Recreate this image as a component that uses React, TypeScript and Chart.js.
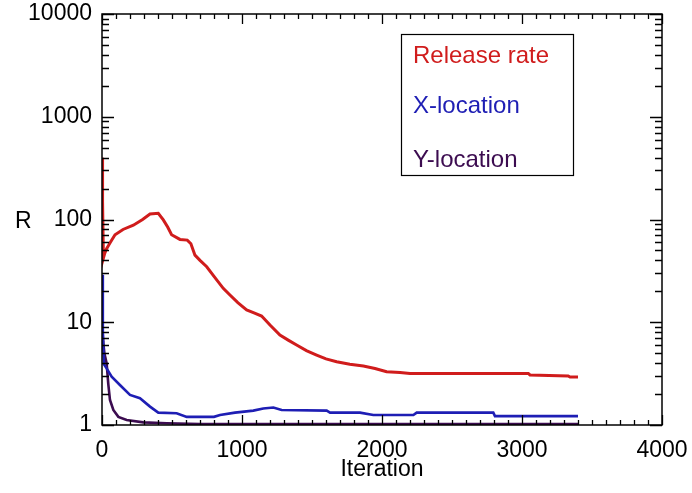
import { useEffect, useRef } from 'react';
import { Chart, registerables } from 'chart.js';

Chart.register(...registerables);

const FONT = '"Liberation Sans", Arial, Helvetica, sans-serif';
const FONT_SIZE = 23;
const LEGEND_FONT_SIZE = 24;

// ---- axis definitions ----
const xTickValues = [0, 1000, 2000, 3000, 4000];
const yTickValues = [1, 10, 100, 1000, 10000];
const xMinorStep = 100;
const xTitle = 'Iteration';
const yTitle = 'R';

// ---- series ----
const seriesLabels = ['Release rate', 'X-location', 'Y-location'];
const seriesColors = ['#d01c1c', '#1e1eb4', '#3c0c50'];

const releaseIter = [0, 4, 10, 20, 33, 60, 93, 150, 224, 290, 343, 402, 438, 470, 497, 557, 609, 635, 664, 700, 748, 800, 866, 914, 970, 1033, 1090, 1140, 1200, 1271, 1330, 1390, 1460, 1533, 1600, 1676, 1770, 1867, 1950, 2033, 2129, 2200, 2600, 3045, 3057, 3330, 3343, 3400];
const releaseVals = [400, 150, 42, 47, 52, 60, 71, 80, 88, 100, 113, 115, 99, 84, 71, 64, 63, 58, 45, 40, 34.7, 28, 21.4, 18.4, 15.5, 13.2, 12.3, 11.5, 9.4, 7.5, 6.7, 6.0, 5.3, 4.8, 4.4, 4.13, 3.9, 3.75, 3.55, 3.3, 3.25, 3.18, 3.18, 3.18, 3.07, 3.0, 2.93, 2.93];

const xLocIter = [0, 6, 14, 33, 69, 128, 200, 271, 343, 402, 533, 605, 800, 843, 950, 1081, 1152, 1224, 1283, 1605, 1629, 1843, 1938, 2224, 2248, 2795, 2807, 3400];
const xLocVals = [29, 8, 3.9, 3.56, 2.95, 2.45, 1.96, 1.82, 1.51, 1.32, 1.3, 1.2, 1.2, 1.25, 1.32, 1.38, 1.45, 1.48, 1.4, 1.38, 1.32, 1.32, 1.25, 1.25, 1.32, 1.32, 1.22, 1.22];

const yLocIter = [0, 8, 17, 33, 45, 57, 81, 117, 176, 295, 462, 700, 3400];
const yLocVals = [10.5, 6.5, 5.0, 4.0, 2.5, 1.75, 1.4, 1.2, 1.12, 1.06, 1.04, 1.02, 1.02];

const toPoints = (xs: number[], ys: number[]) => xs.map((x, i) => ({ x, y: ys[i] }));

const idlPlugin = {
  id: 'idlFrame',
  afterDatasetsDraw(chart: any) {
    const { ctx, chartArea: a, scales } = chart;
    const xs = scales.x;
    const ys = scales.y;
    ctx.save();
    // frame
    ctx.strokeStyle = '#000';
    ctx.lineWidth = 1.5;
    ctx.strokeRect(a.left, a.top, a.right - a.left, a.bottom - a.top);
    // inward ticks
    ctx.lineWidth = 1.3;
    ctx.beginPath();
    for (let v = xs.min; v <= xs.max + 0.001; v += xMinorStep) {
      const px = Math.round(xs.getPixelForValue(v)) + 0.5;
      const len = xTickValues.includes(v) ? 10 : 5;
      ctx.moveTo(px, a.bottom);
      ctx.lineTo(px, a.bottom - len);
      ctx.moveTo(px, a.top);
      ctx.lineTo(px, a.top + len);
    }
    for (let d = yTickValues[0]; d <= yTickValues[yTickValues.length - 1]; d *= 10) {
      for (let m = 1; m <= 9; m++) {
        const v = d * m;
        if (v > ys.max * 1.0001) break;
        const py = Math.round(ys.getPixelForValue(v)) + 0.5;
        const len = m === 1 ? 12 : 7;
        ctx.moveTo(a.left, py);
        ctx.lineTo(a.left + len, py);
        ctx.moveTo(a.right, py);
        ctx.lineTo(a.right - len, py);
      }
    }
    ctx.stroke();

    // legend box
    const lx = 401, ly = 34, lw = 172, lh = 141;
    ctx.lineWidth = 1.2;
    ctx.strokeRect(lx + 0.5, ly + 0.5, lw, lh);
    ctx.font = `${LEGEND_FONT_SIZE}px ${FONT}`;
    ctx.textAlign = 'left';
    ctx.textBaseline = 'alphabetic';
    const baselines = [63, 113, 167];
    chart.data.datasets.forEach((ds: any, i: number) => {
      ctx.fillStyle = ds.borderColor;
      ctx.fillText(ds.label, lx + 12, baselines[i]);
    });

    // horizontal y title
    ctx.font = `${FONT_SIZE}px ${FONT}`;
    ctx.fillStyle = '#000';
    ctx.fillText(yTitle, 15, 228);
    ctx.restore();
  },
};

export default function App() {
  const ref = useRef<HTMLCanvasElement | null>(null);

  useEffect(() => {
    if (!ref.current) return;
    const chart = new Chart(ref.current, {
      type: 'line',
      data: {
        datasets: [
          { label: seriesLabels[0], data: toPoints(releaseIter, releaseVals), borderColor: seriesColors[0], borderWidth: 3 },
          { label: seriesLabels[1], data: toPoints(xLocIter, xLocVals), borderColor: seriesColors[1], borderWidth: 2.6 },
          { label: seriesLabels[2], data: toPoints(yLocIter, yLocVals), borderColor: seriesColors[2], borderWidth: 2.6 },
        ].map((d) => ({ ...d, pointRadius: 0, tension: 0, fill: false, backgroundColor: d.borderColor })),
      },
      options: {
        animation: false,
        responsive: false,
        events: [],
        layout: { padding: { top: 14, right: 30, left: 0, bottom: 0 } },
        plugins: { legend: { display: false }, tooltip: { enabled: false } },
        scales: {
          x: {
            type: 'linear',
            min: 0,
            max: 4000,
            afterBuildTicks: (s: any) => { s.ticks = xTickValues.map((v) => ({ value: v })); },
            afterFit: (s: any) => { s.height = 68; s.paddingLeft = 0; s.paddingRight = 0; },
            grid: { display: false, drawTicks: false },
            border: { display: false },
            ticks: { color: '#000', font: { family: FONT, size: FONT_SIZE }, padding: 12, maxRotation: 0, autoSkip: false, callback: (v: any) => String(v) },
            title: { display: true, text: xTitle, color: '#000', font: { family: FONT, size: FONT_SIZE }, padding: { top: 0, bottom: 10 } },
          },
          y: {
            type: 'logarithmic',
            min: 1,
            max: 10000,
            afterBuildTicks: (s: any) => { s.ticks = yTickValues.map((v) => ({ value: v })); },
            afterFit: (s: any) => { s.width = 102; s.paddingTop = 0; s.paddingBottom = 0; },
            grid: { display: false, drawTicks: false },
            border: { display: false },
            ticks: { color: '#000', font: { family: FONT, size: FONT_SIZE }, padding: 10, autoSkip: false, callback: (v: any) => String(v) },
          },
        },
      },
      plugins: [idlPlugin],
    } as any);
    return () => chart.destroy();
  }, []);

  return (
    <div style={{ position: 'absolute', left: 0, top: 0, width: 692, height: 493, background: '#fff' }}>
      <canvas ref={ref} width={692} height={493} />
    </div>
  );
}
